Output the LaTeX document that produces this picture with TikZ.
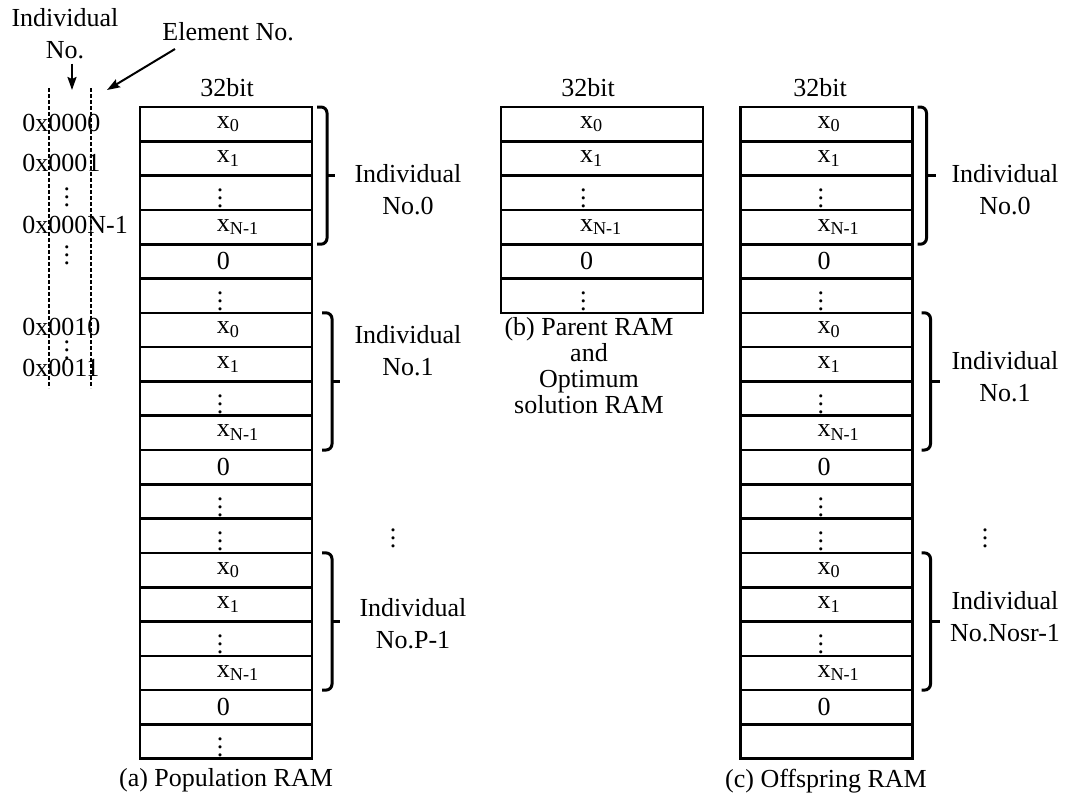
\documentclass[tikz,border=0pt]{standalone}
\usepackage{fontspec}
\setmainfont{Liberation Serif}
\usetikzlibrary{arrows.meta}

\newcommand{\xs}[1]{x\textsubscript{#1}}

\begin{document}
\begin{tikzpicture}[x=0.5pt, y=-0.5pt,
        font=\fontsize{13}{16}\selectfont,
        cell_base/.style={draw, line width=1.3pt, inner sep=0pt, outer sep=0pt, minimum height=17.15pt, align=left},
        ram_cell/.style={cell_base, text width=86pt, execute at begin node={\hspace*{38.5pt}}},
        ram_cell_b/.style={cell_base, text width=101pt, execute at begin node={\hspace*{39.5pt}}},
        plain_text/.style={inner sep=0pt},
        addr/.style={inner sep=0pt, anchor=west},
        ind_label/.style={inner sep=0pt, align=center},
        bracket/.style={line width=1.5pt, rounded corners=3pt},
        arrow/.style={-{Stealth[length=6.5pt, width=4.5pt, inset=1pt]}, line width=1pt},
        dash_line/.style={dashed, dash pattern=on 2pt off 1pt, line width=0.6pt}
    ]
    \useasboundingbox (0, 0) rectangle (1067, 798);

    % ==================== Address annotation (Left) ====================
    \node[plain_text, align=center] (ind_no) at (65, 34) {Individual\\No.};
    \node[plain_text, anchor=west] (elem_no) at (162, 32) {Element No.};
    \coordinate (ind_tip) at (72, 90);
    \coordinate (elem_tip) at (107, 90);
    \draw[arrow, shorten <=2pt] (ind_no.south -| ind_tip) -- (ind_tip);
    \draw[arrow] ([xshift=6.5pt, yshift=-3.7pt]elem_no.south west) -- (elem_tip);

    % Field separators
    \draw[dash_line] (49, 88) -- (49, 388);
    \draw[dash_line] (91, 88) -- (91, 388);

    % Addresses
    \node[addr] (ad_0) at (22, 123) {0x0000};
    \node[addr] (ad_1) at (22, 163) {0x0001};
    \node[plain_text] (ad_dots1) at (67, 191) {\vdots};
    \node[addr] (ad_n) at (22, 225) {0x000N-1};
    \node[plain_text] (ad_dots2) at (67, 249) {\vdots};
    \node[addr] (ad_10) at (22, 327) {0x0010};
    \node[plain_text] (ad_dots3) at (67, 344) {\vdots};
    \node[addr] (ad_11) at (22, 368) {0x0011};

    % ==================== Population RAM (a) ====================
    \node[plain_text] (bit_a) at (227, 88) {32bit};
    \node[ram_cell] (pa1) at (226, 124.15) {\xs{0}};
    \node[ram_cell] (pa2) at (226, 158.45) {\xs{1}};
    \node[ram_cell] (pa3) at (226, 192.75) {\vdots};
    \node[ram_cell] (pa4) at (226, 227.05) {\xs{N-1}};
    \node[ram_cell] (pa5) at (226, 261.35) {0};
    \node[ram_cell] (pa6) at (226, 295.65) {\vdots};
    \node[ram_cell] (pa7) at (226, 329.95) {\xs{0}};
    \node[ram_cell] (pa8) at (226, 364.25) {\xs{1}};
    \node[ram_cell] (pa9) at (226, 398.55) {\vdots};
    \node[ram_cell] (pa10) at (226, 432.85) {\xs{N-1}};
    \node[ram_cell] (pa11) at (226, 467.15) {0};
    \node[ram_cell] (pa12) at (226, 501.45) {\vdots};
    \node[ram_cell] (pa13) at (226, 535.75) {\vdots};
    \node[ram_cell] (pa14) at (226, 570.05) {\xs{0}};
    \node[ram_cell] (pa15) at (226, 604.35) {\xs{1}};
    \node[ram_cell] (pa16) at (226, 638.65) {\vdots};
    \node[ram_cell] (pa17) at (226, 672.95) {\xs{N-1}};
    \node[ram_cell] (pa18) at (226, 707.25) {0};
    \node[ram_cell] (pa19) at (226, 741.55) {\vdots};

    % Individuals
    \draw[bracket] ([xshift=2.5pt]pa1.north east) -| ([xshift=7.5pt]pa2.south east) |- ([xshift=2.5pt]pa4.south east);
    \draw[bracket] ([xshift=7.5pt]pa2.south east) -- ++(8, 0);
    \draw[bracket] ([xshift=5pt]pa7.north east) -| ([xshift=10pt]pa8.south east) |- ([xshift=5pt]pa10.south east);
    \draw[bracket] ([xshift=10pt]pa8.south east) -- ++(8, 0);
    \draw[bracket] ([xshift=5pt]pa14.north east) -| ([xshift=10pt]pa15.south east) |- ([xshift=5pt]pa17.south east);
    \draw[bracket] ([xshift=10pt]pa15.south east) -- ++(8, 0);
    \node[ind_label] (lab_a0) at (408, 190) {Individual\\No.0};
    \node[ind_label] (lab_a1) at (408, 351) {Individual\\No.1};
    \node[plain_text] (dots_a) at (393, 532) {\vdots};
    \node[ind_label] (lab_ap) at (413, 624) {Individual\\No.P-1};

    \node[plain_text] (cap_a) at (226, 780) {(a) Population RAM};

    % ==================== Parent RAM (b) ====================
    \node[plain_text] (bit_b) at (588, 88) {32bit};
    \node[ram_cell_b] (pb1) at (602, 124.15) {\xs{0}};
    \node[ram_cell_b] (pb2) at (602, 158.45) {\xs{1}};
    \node[ram_cell_b] (pb3) at (602, 192.75) {\vdots};
    \node[ram_cell_b] (pb4) at (602, 227.05) {\xs{N-1}};
    \node[ram_cell_b] (pb5) at (602, 261.35) {0};
    \node[ram_cell_b] (pb6) at (602, 295.65) {\vdots};

    \node[plain_text, align=center, font=\fontsize{13}{13}\selectfont] (cap_b) at (589, 366)
        {(b) Parent RAM\\and\\Optimum\\solution RAM};

    % ==================== Offspring RAM (c) ====================
    \node[plain_text] (bit_c) at (820, 88) {32bit};
    \node[ram_cell] (pc1) at (826.5, 124.15) {\xs{0}};
    \node[ram_cell] (pc2) at (826.5, 158.45) {\xs{1}};
    \node[ram_cell] (pc3) at (826.5, 192.75) {\vdots};
    \node[ram_cell] (pc4) at (826.5, 227.05) {\xs{N-1}};
    \node[ram_cell] (pc5) at (826.5, 261.35) {0};
    \node[ram_cell] (pc6) at (826.5, 295.65) {\vdots};
    \node[ram_cell] (pc7) at (826.5, 329.95) {\xs{0}};
    \node[ram_cell] (pc8) at (826.5, 364.25) {\xs{1}};
    \node[ram_cell] (pc9) at (826.5, 398.55) {\vdots};
    \node[ram_cell] (pc10) at (826.5, 432.85) {\xs{N-1}};
    \node[ram_cell] (pc11) at (826.5, 467.15) {0};
    \node[ram_cell] (pc12) at (826.5, 501.45) {\vdots};
    \node[ram_cell] (pc13) at (826.5, 535.75) {\vdots};
    \node[ram_cell] (pc14) at (826.5, 570.05) {\xs{0}};
    \node[ram_cell] (pc15) at (826.5, 604.35) {\xs{1}};
    \node[ram_cell] (pc16) at (826.5, 638.65) {\vdots};
    \node[ram_cell] (pc17) at (826.5, 672.95) {\xs{N-1}};
    \node[ram_cell] (pc18) at (826.5, 707.25) {0};
    \node[ram_cell] (pc19) at (826.5, 741.55) {};

    % Individuals
    \draw[bracket] ([xshift=2.5pt]pc1.north east) -| ([xshift=7pt]pc2.south east) |- ([xshift=2.5pt]pc4.south east);
    \draw[bracket] ([xshift=7pt]pc2.south east) -- ++(9, 0);
    \draw[bracket] ([xshift=4.5pt]pc7.north east) -| ([xshift=9pt]pc8.south east) |- ([xshift=4.5pt]pc10.south east);
    \draw[bracket] ([xshift=9pt]pc8.south east) -- ++(9, 0);
    \draw[bracket] ([xshift=4.5pt]pc14.north east) -| ([xshift=9pt]pc15.south east) |- ([xshift=4.5pt]pc17.south east);
    \draw[bracket] ([xshift=9pt]pc15.south east) -- ++(9, 0);
    \node[ind_label] (lab_c0) at (1005, 190) {Individual\\No.0};
    \node[ind_label] (lab_c1) at (1005, 377) {Individual\\No.1};
    \node[plain_text] (dots_c) at (985, 532) {\vdots};
    \node[ind_label] (lab_cn) at (1005, 617) {Individual\\No.Nosr-1};

    \node[plain_text] (cap_c) at (826, 781) {(c) Offspring RAM};

\end{tikzpicture}
\end{document}
